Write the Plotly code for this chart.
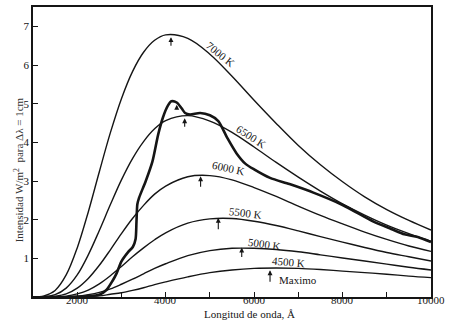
import plotly.graph_objects as go

# Wavelength grid (Angstrom)
wavelength = [1000, 1250, 1500, 1750, 2000, 2250, 2500, 2750, 3000, 3250, 3500, 3750,
              4000, 4500, 5000, 5500, 6000, 6500, 7000, 7500, 8000, 8500, 9000, 9500, 10000]

# Blackbody curves (W/m^2 per dλ = 1 cm)
bb_7000 = [0.00, 0.03, 0.17, 0.57, 1.27, 2.20, 3.24, 4.25, 5.13, 5.83, 6.33, 6.64,
           6.78, 6.69, 6.28, 5.71, 5.09, 4.49, 3.92, 3.42, 2.98, 2.59, 2.26, 1.98, 1.73]
bb_6500 = [0.00, 0.01, 0.06, 0.23, 0.57, 1.09, 1.72, 2.39, 3.03, 3.58, 4.02, 4.35,
           4.56, 4.69, 4.55, 4.26, 3.88, 3.48, 3.10, 2.74, 2.41, 2.12, 1.86, 1.64, 1.44]
bb_6000 = [0.00, 0.00, 0.02, 0.08, 0.23, 0.48, 0.82, 1.22, 1.64, 2.03, 2.37, 2.66,
           2.87, 3.11, 3.14, 3.03, 2.83, 2.60, 2.35, 2.11, 1.89, 1.68, 1.49, 1.32, 1.18]
bb_5500 = [0.00, 0.00, 0.00, 0.02, 0.08, 0.18, 0.34, 0.55, 0.79, 1.04, 1.27, 1.48,
           1.66, 1.91, 2.02, 2.03, 1.96, 1.85, 1.71, 1.56, 1.42, 1.28, 1.15, 1.04, 0.93]
bb_5000 = [0.00, 0.00, 0.00, 0.01, 0.02, 0.06, 0.12, 0.21, 0.33, 0.46, 0.60, 0.74,
           0.86, 1.07, 1.20, 1.26, 1.26, 1.23, 1.17, 1.09, 1.01, 0.93, 0.85, 0.77, 0.70]
bb_4500 = [0.00, 0.00, 0.00, 0.00, 0.00, 0.01, 0.03, 0.07, 0.11, 0.17, 0.24, 0.32,
           0.39, 0.52, 0.63, 0.70, 0.74, 0.75, 0.74, 0.71, 0.67, 0.63, 0.59, 0.54, 0.50]

# Measured (solar) spectrum, thick curve
sun_wavelength = [1800, 2200, 2500, 2660, 2800, 2890, 3000, 3150, 3260, 3320, 3340, 3360,
                  3400, 3550, 3700, 3830, 3940, 4050, 4130, 4250, 4360, 4440, 4550, 4780,
                  5000, 5190, 5400, 5600, 5800, 6000, 6360, 6800, 7340, 8000, 8700, 9100,
                  9400, 9700, 10000]
sun_intensity = [0.00, 0.02, 0.06, 0.18, 0.42, 0.61, 0.92, 1.16, 1.30, 1.50, 1.95, 2.40,
                 2.57, 3.00, 3.50, 4.20, 4.65, 4.95, 5.06, 5.03, 4.88, 4.76, 4.72, 4.76,
                 4.70, 4.55, 4.10, 3.72, 3.45, 3.30, 3.08, 2.92, 2.70, 2.38, 1.95, 1.76,
                 1.62, 1.55, 1.42]

# Curve labels
label_text = ["7000 K", "6500 K", "6000 K", "5500 K", "5000 K", "4500 K"]
label_wl = [5230, 5950, 5410, 5815, 6225, 6770]
label_val = [6.28, 4.15, 3.33, 2.18, 1.38, 0.90]
label_angle = [39, 33, 12, 7, 8, 5]

# Maximum arrows (tip position) and arrow length in px
arrow_wl = [4120, 4430, 4250, 4790, 5190, 5720, 6360]
arrow_val = [6.72, 4.62, 4.97, 3.12, 2.05, 1.28, 0.69]
arrow_len = [10, 10, 6, 12, 13, 11, 13]

x_ticks = [2000, 3000, 4000, 5000, 6000, 7000, 8000, 9000, 10000]
x_label_vals = [2000, 4000, 6000, 8000, 10000]
x_label_text = ["2000", "4000", "6000", "8000", "10000"]
y_ticks = [1, 2, 3, 4, 5, 6, 7]

SERIF = "Liberation Serif, Times New Roman, serif"
INK = "#151515"

fig = go.Figure()
for vals in [bb_7000, bb_6500, bb_6000, bb_5500, bb_5000, bb_4500]:
    fig.add_trace(go.Scatter(x=wavelength, y=vals, mode="lines",
                             line=dict(color=INK, width=1.4, shape="spline", smoothing=1.0),
                             hoverinfo="skip", showlegend=False))
fig.add_trace(go.Scatter(x=sun_wavelength, y=sun_intensity, mode="lines",
                         line=dict(color=INK, width=2.6, shape="spline", smoothing=0.7),
                         hoverinfo="skip", showlegend=False))

annotations = []
for t, xw, yv, ang in zip(label_text, label_wl, label_val, label_angle):
    annotations.append(dict(x=xw, y=yv, xref="x", yref="y", text=t, showarrow=False,
                            textangle=ang, font=dict(family=SERIF, size=11, color=INK)))
annotations.append(dict(x=6520, y=0.44, xref="x", yref="y", text="Maximo", showarrow=False,
                        xanchor="left", font=dict(family=SERIF, size=11, color=INK)))
for xw, yv, ln in zip(arrow_wl, arrow_val, arrow_len):
    annotations.append(dict(x=xw, y=yv, xref="x", yref="y", text="", showarrow=True,
                            ax=0, ay=ln, arrowhead=2, arrowsize=0.9, arrowwidth=1.1,
                            arrowcolor=INK, standoff=0, startstandoff=0))
# x tick labels placed close under the axis, like the printed figure
for xv, tx in zip(x_label_vals, x_label_text):
    annotations.append(dict(x=xv, y=0, xref="x", yref="paper", text=tx, showarrow=False,
                            yanchor="top", yshift=4, borderpad=0,
                            font=dict(family=SERIF, size=11, color=INK)))
annotations.append(dict(x=-0.058, y=0.44, xref="paper", yref="paper",
                        text="Intensidad W/m<sup>2</sup>  para Δλ = 1cm", textangle=-90,
                        showarrow=False, font=dict(family=SERIF, size=11, color="#333")))
annotations.append(dict(x=0.543, y=-0.060, xref="paper", yref="paper",
                        text="Longitud de onda, Å", showarrow=False, yanchor="middle",
                        borderpad=0, font=dict(family=SERIF, size=11, color=INK)))

fig.update_layout(
    width=450, height=322,
    margin=dict(l=33, r=19, t=5, b=25),
    paper_bgcolor="white", plot_bgcolor="white",
    annotations=annotations,
    xaxis=dict(range=[1000, 10000], showline=True, linecolor=INK, linewidth=1.5, mirror=True,
               ticks="inside", ticklen=5, tickwidth=1.2, tickcolor=INK,
               tickvals=x_ticks, showticklabels=False, showgrid=False, zeroline=False),
    yaxis=dict(range=[0, 7.5], showline=True, linecolor=INK, linewidth=1.5, mirror=True,
               ticks="inside", ticklen=5, tickwidth=1.2, tickcolor=INK,
               tickvals=y_ticks, showgrid=False, zeroline=False,
               tickfont=dict(family=SERIF, size=11, color=INK)),
)

fig.write_html("out.html")
